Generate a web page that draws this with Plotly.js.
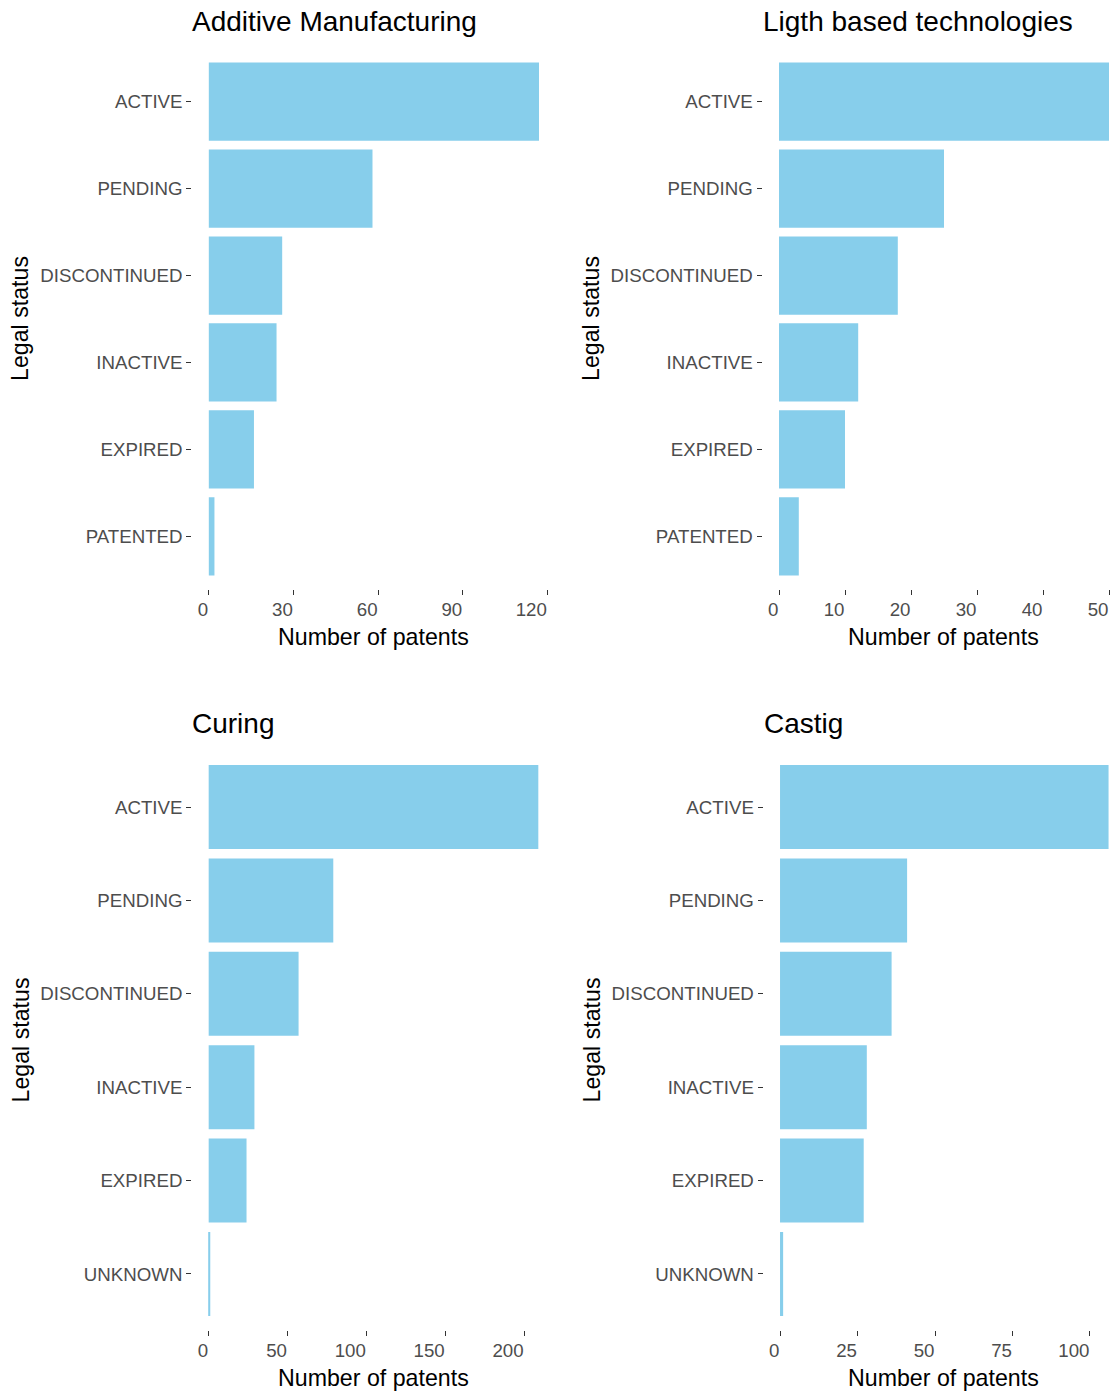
<!DOCTYPE html>
<html>
<head>
<meta charset="utf-8">
<script src="https://cdn.plot.ly/plotly-3.0.1.min.js"></script>
<style>
html,body{margin:0;padding:0;background:#fff;overflow:hidden;}
#chart{width:1116px;height:1392px;}
</style>
</head>
<body>
<div id="chart"></div>
<script>
// ---- data ----
const statusTop = ['ACTIVE','PENDING','DISCONTINUED','INACTIVE','EXPIRED','PATENTED'];
const statusBottom = ['ACTIVE','PENDING','DISCONTINUED','INACTIVE','EXPIRED','UNKNOWN'];
const additiveValues = [117, 58, 26, 24, 16, 2];
const lightValues = [50, 25, 18, 12, 10, 3];
const curingValues = [209, 79, 57, 29, 24, 1];
const castigValues = [106, 41, 36, 28, 27, 1];
const panelTitles = ['Additive Manufacturing','Ligth based technologies','Curing','Castig'];
const xTitle = 'Number of patents';
const yTitle = 'Legal status';

// ---- layout helpers ----
const W = 1116, H = 1392;
const px = v => v / W;
const py = v => 1 - v / H;
const FONT = 'Liberation Sans, Arial, sans-serif';
const barColor = '#87CEEB';

const panels = [
  {cats: statusTop, vals: additiveValues, x0: 192.3, x1: 552.4, range: [-5.85, 121.75], dtick: 30, ytop: 49.5, ybot: 588.5, xc: 373},
  {cats: statusTop, vals: lightValues, x0: 762.5, x1: 1116, range: [-2.5, 51.06], dtick: 10, ytop: 49.5, ybot: 588.5, xc: 943},
  {cats: statusBottom, vals: curingValues, x0: 192.2, x1: 554.8, range: [-10.45, 219.45], dtick: 50, ytop: 751, ybot: 1330, xc: 373},
  {cats: statusBottom, vals: castigValues, x0: 763.6, x1: 1116, range: [-5.3, 108.4], dtick: 25, ytop: 751, ybot: 1330, xc: 943}
];

const data = [];
const layout = {
  width: W, height: H,
  margin: {l: 0, r: 0, t: 0, b: 0, pad: 0},
  paper_bgcolor: '#ffffff',
  plot_bgcolor: '#ffffff',
  showlegend: false,
  bargap: 0.1,
  font: {family: FONT},
  annotations: []
};

panels.forEach((p, i) => {
  const n = i + 1;
  const xa = n === 1 ? 'x' : 'x' + n;
  const ya = n === 1 ? 'y' : 'y' + n;
  data.push({
    type: 'bar', orientation: 'h',
    y: p.cats, x: p.vals,
    xaxis: xa, yaxis: ya,
    marker: {color: barColor, line: {width: 0}},
    hoverinfo: 'x+y'
  });
  const xKey = n === 1 ? 'xaxis' : 'xaxis' + n;
  const yKey = n === 1 ? 'yaxis' : 'yaxis' + n;
  layout[xKey] = {
    domain: [px(p.x0), px(p.x1)],
    anchor: ya,
    range: p.range,
    tickmode: 'linear', tick0: 0, dtick: p.dtick,
    showgrid: false, zeroline: false, showline: false,
    ticks: 'outside', ticklen: 5, tickwidth: 1.1, tickcolor: '#333333',
    ticklabelposition: 'outside left',
    ticklabelstandoff: 4,
    tickfont: {family: FONT, size: 18.7, color: '#4d4d4d'},
    fixedrange: true
  };
  layout[yKey] = {
    domain: [py(p.ybot), py(p.ytop)],
    anchor: xa,
    type: 'category',
    categoryorder: 'array', categoryarray: p.cats,
    range: [5.6, -0.6],
    showgrid: false, zeroline: false, showline: false,
    ticks: 'outside', ticklen: 5, tickwidth: 1.1, tickcolor: '#333333',
    tickfont: {family: FONT, size: 18.7, color: '#4d4d4d'},
    fixedrange: true
  };
  // panel title
  layout.annotations.push({
    xref: 'paper', yref: 'paper',
    x: px(p.x0 - 2), y: py(i < 2 ? 22 : 724),
    xanchor: 'left', yanchor: 'middle',
    text: panelTitles[i], showarrow: false,
    font: {family: FONT, size: 28, color: '#000000'}
  });
  // x axis title
  layout.annotations.push({
    xref: 'paper', yref: 'paper',
    x: px(p.xc), y: py(i < 2 ? 637 : 1378),
    xanchor: 'center', yanchor: 'middle',
    text: xTitle, showarrow: false,
    font: {family: FONT, size: 23.2, color: '#000000'}
  });
  // y axis title
  layout.annotations.push({
    xref: 'paper', yref: 'paper',
    x: px(i % 2 === 0 ? 20 : 591), y: py((p.ytop + p.ybot) / 2),
    xanchor: 'center', yanchor: 'middle',
    textangle: -90,
    text: yTitle, showarrow: false,
    font: {family: FONT, size: 23.2, color: '#000000'}
  });
});

Plotly.newPlot('chart', data, layout, {displayModeBar: false, staticPlot: false});
</script>
</body>
</html>
